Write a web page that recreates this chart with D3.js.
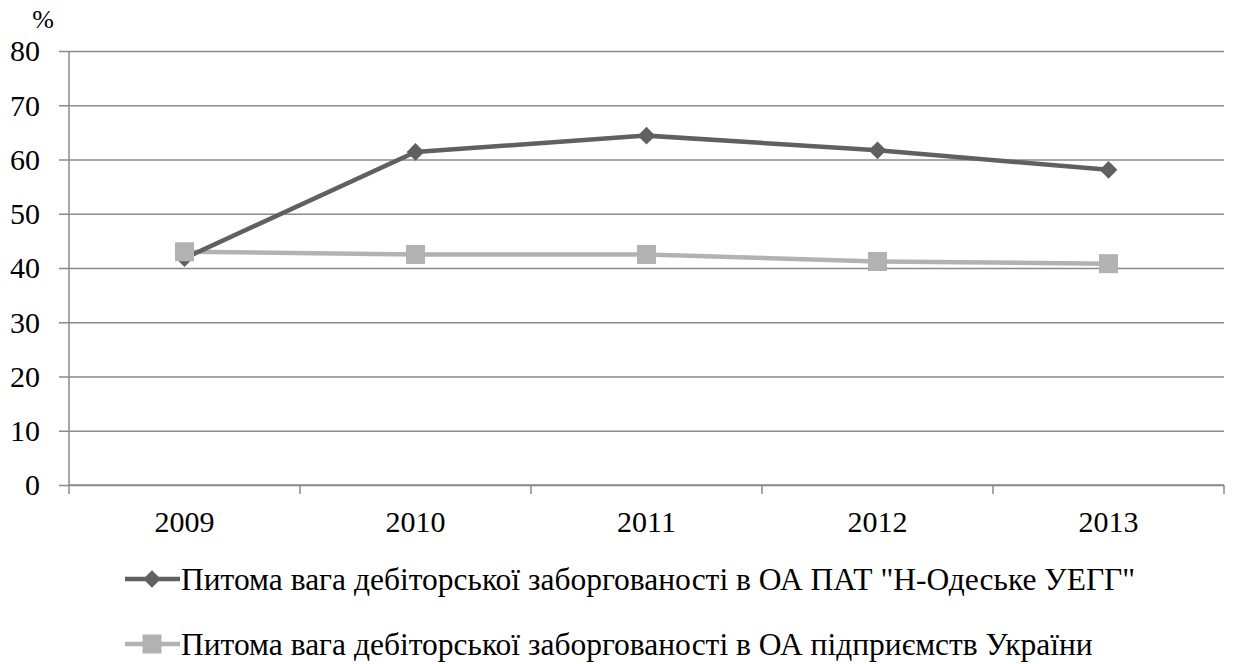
<!DOCTYPE html>
<html>
<head>
<meta charset="utf-8">
<script src="https://cdn.jsdelivr.net/npm/d3@7"></script>
</head>
<body style="margin:0">
<svg width="1233" height="664"></svg>
<script>
var years = ["2009", "2010", "2011", "2012", "2013"];
var company = [41.8, 61.4, 64.4, 61.7, 58.1];
var ukraine = [43.0, 42.5, 42.5, 41.2, 40.8];
var yTicks = [0, 10, 20, 30, 40, 50, 60, 70, 80];
var seriesNames = [
  "Питома вага дебіторської заборгованості в ОА ПАТ \"Н-Одеське УЕГГ\"",
  "Питома вага дебіторської заборгованості в ОА підприємств України"
];

var FONT = "Liberation Serif";

var svg = d3.select("svg"),
    margin = {top: 51, right: 9, bottom: 179, left: 69},
    width = +svg.attr("width") - margin.left - margin.right,
    height = +svg.attr("height") - margin.top - margin.bottom,
    g = svg.append("g").attr("transform", "translate(" + margin.left + "," + margin.top + ")");

var x = d3.scaleBand()
    .domain(years)
    .range([0, width]);

var y = d3.scaleLinear()
    .domain([0, 80])
    .range([height, 0]);

var gridColor = "#8a8a8a";

// horizontal gridlines, extending left as tick marks
g.append("g")
    .attr("class", "grid")
    .call(d3.axisLeft(y).tickValues(yTicks).tickSize(-width).tickFormat(""))
    .call(function(s) {
      s.select(".domain").remove();
      s.selectAll("line").attr("stroke", gridColor).attr("stroke-width", 1.5).attr("x1", -10);
    });

// y axis line + labels
g.append("g")
    .attr("class", "axis axis--y")
    .call(d3.axisLeft(y).tickValues(yTicks).tickSize(0).tickPadding(29))
    .attr("font-family", FONT)
    .attr("font-size", 30)
    .call(function(s) {
      s.select(".domain").attr("stroke", gridColor).attr("stroke-width", 1.5).attr("d", "M0,0V" + height);
      s.selectAll("text").attr("fill", "#000").attr("dy", "0.33em");
    });

// x axis with boundary ticks
var xAxis = g.append("g")
    .attr("class", "axis axis--x")
    .attr("transform", "translate(0," + height + ")");

xAxis.append("line")
    .attr("x1", 0).attr("x2", width)
    .attr("stroke", gridColor).attr("stroke-width", 1.5);

xAxis.selectAll(".xtick")
  .data(d3.range(years.length + 1))
  .enter().append("line")
    .attr("class", "xtick")
    .attr("x1", function(i) { return i * x.step(); })
    .attr("x2", function(i) { return i * x.step(); })
    .attr("y1", 0).attr("y2", 9)
    .attr("stroke", gridColor).attr("stroke-width", 1.5);

xAxis.selectAll(".xlabel")
  .data(years)
  .enter().append("text")
    .attr("class", "xlabel")
    .attr("x", function(d) { return x(d) + x.bandwidth() / 2; })
    .attr("y", 47)
    .attr("text-anchor", "middle")
    .attr("font-family", FONT)
    .attr("font-size", 30)
    .attr("fill", "#000")
    .text(function(d) { return d; });

// % label
svg.append("text")
    .attr("x", 43).attr("y", 28)
    .attr("text-anchor", "middle")
    .attr("font-family", FONT)
    .attr("font-size", 26)
    .attr("fill", "#000")
    .text("%");

var cx = function(d, i) { return x(years[i]) + x.bandwidth() / 2; };
var line = d3.line()
    .x(cx)
    .y(function(d) { return y(d); });

var diamond = d3.symbol().type(d3.symbolDiamond2).size(200);

// light series (Ukraine) drawn first
g.append("path")
    .datum(ukraine)
    .attr("fill", "none")
    .attr("stroke", "#b2b2b2")
    .attr("stroke-width", 4.5)
    .attr("d", line);

// dark series
g.append("path")
    .datum(company)
    .attr("fill", "none")
    .attr("stroke", "#606060")
    .attr("stroke-width", 4.5)
    .attr("d", line);

g.selectAll(".dmark")
  .data(company)
  .enter().append("path")
    .attr("class", "dmark")
    .attr("transform", function(d, i) { return "translate(" + cx(d, i) + "," + y(d) + ")"; })
    .attr("d", diamond)
    .attr("fill", "#606060");

g.selectAll(".smark")
  .data(ukraine)
  .enter().append("rect")
    .attr("class", "smark")
    .attr("x", function(d, i) { return cx(d, i) - 9.5; })
    .attr("y", function(d) { return y(d) - 9.5; })
    .attr("width", 19).attr("height", 19)
    .attr("fill", "#b2b2b2");

// legend
var legend = svg.selectAll(".legend")
  .data(seriesNames)
  .enter().append("g")
    .attr("class", "legend")
    .attr("transform", function(d, i) { return "translate(125," + (579 + i * 65) + ")"; });

legend.append("line")
    .attr("x1", 0).attr("x2", 55)
    .attr("stroke", function(d, i) { return i === 0 ? "#606060" : "#b2b2b2"; })
    .attr("stroke-width", 4.5);

legend.filter(function(d, i) { return i === 0; })
  .append("path")
    .attr("transform", "translate(27,0)")
    .attr("d", diamond)
    .attr("fill", "#606060");

legend.filter(function(d, i) { return i === 1; })
  .append("rect")
    .attr("x", 17.5).attr("y", -9.5)
    .attr("width", 19).attr("height", 19)
    .attr("fill", "#b2b2b2");

legend.append("text")
    .attr("x", 56)
    .attr("dy", "0.35em")
    .attr("font-family", FONT)
    .attr("font-size", 31.5)
    .attr("fill", "#000")
    .text(function(d) { return d; });
</script>
</body>
</html>
